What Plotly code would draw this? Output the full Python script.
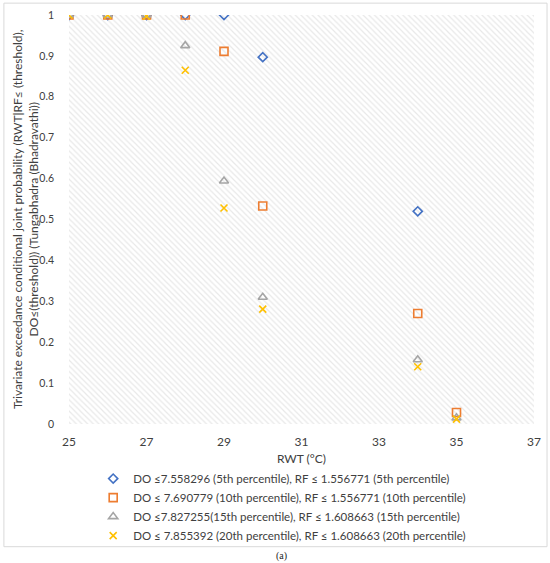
import plotly.graph_objects as go

# RWT (deg C) values on the x axis
rwt = [25, 26, 27, 28, 29, 30, 34, 35]

# joint probability per threshold combination
p_5th = [1.0, 1.0, 1.0, 1.0, 1.0, 0.897, 0.52, None]
p_10th = [1.0, 1.0, 1.0, 1.0, 0.911, 0.533, 0.27, 0.028]
p_15th = [1.0, 1.0, 1.0, 0.925, 0.594, 0.31, 0.157, 0.015]
p_20th = [1.0, 1.0, 0.997, 0.865, 0.528, 0.281, 0.14, 0.012]

names = [
    "DO \u22647.558296 (5th percentile), RF \u2264 1.556771 (5th percentile)",
    "DO \u2264 7.690779 (10th percentile), RF \u2264 1.556771 (10th percentile)",
    "DO \u22647.827255(15th percentile), RF \u2264 1.608663 (15th percentile)",
    "DO \u2264 7.855392 (20th percentile), RF \u2264 1.608663 (20th percentile)",
]

x_range = [25, 37]
y_range = [0, 1]

font_family = "Lato, 'Open Sans', sans-serif"
dark_text = "#404040"

fig = go.Figure()

# hatched plot background
fig.add_trace(go.Scatter(
    x=[x_range[0], x_range[1], x_range[1], x_range[0], x_range[0]],
    y=[y_range[0], y_range[0], y_range[1], y_range[1], y_range[0]],
    mode="none", fill="toself", fillcolor="white",
    fillpattern=dict(shape="\\", fgcolor="#d2d2d2", bgcolor="white", size=4, solidity=0.3),
    hoverinfo="skip", showlegend=False))

styles = [
    dict(symbol="diamond-open", color="#4472C4", size=7),
    dict(symbol="square-open", color="#ED7D31", size=8),
    dict(symbol="triangle-up-open", color="#A5A5A5", size=8),
    dict(symbol="x-thin-open", color="#FFC000", size=7),
]

for ys, name, st in zip([p_5th, p_10th, p_15th, p_20th], names, styles):
    fig.add_trace(go.Scatter(
        x=rwt, y=ys, mode="markers", name=name,
        marker=dict(symbol=st["symbol"], size=st["size"], color=st["color"],
                    line=dict(color=st["color"], width=1.6))))

fig.update_layout(
    width=550, height=563,
    margin=dict(l=69, r=16, t=15, b=139, autoexpand=False),
    paper_bgcolor="white", plot_bgcolor="white",
    font=dict(family=font_family, size=12, color=dark_text),
    showlegend=True,
    legend=dict(x=0.052, y=-0.098, xanchor="left", yanchor="top",
                font=dict(size=11.5, color=dark_text), tracegroupgap=0,
                bgcolor="rgba(0,0,0,0)"),
    xaxis=dict(range=x_range, dtick=2, tick0=25, showgrid=True, gridcolor="#d9d9d9",
               zeroline=False, showline=False, ticks="", ticklabelstandoff=9,
               tickfont=dict(size=12, color=dark_text),
               title=dict(text="RWT (\u00b0C)", standoff=6, font=dict(size=12, color=dark_text))),
    yaxis=dict(range=y_range, dtick=0.1, showgrid=True, gridcolor="#d9d9d9",
               zeroline=False, showline=False, ticks="", ticklabelstandoff=14,
               tickfont=dict(size=10.5, color=dark_text)),
    shapes=[dict(type="rect", xref="paper", yref="paper",
                 x0=-0.14, x1=1.028, y0=-0.3, y1=1.029,
                 line=dict(color="#d9d9d9", width=1), layer="below")],
    annotations=[
        dict(text="Trivariate exceedance conditional joint probability (RWT|RF\u2264 (threshold),<br>"
                  "DO\u2264(threshold)) (Tungabhadra (Bhadravathi))",
             xref="paper", yref="paper", x=-0.0935, y=0.5, xanchor="center", yanchor="middle",
             textangle=-90, showarrow=False, font=dict(size=12, color=dark_text)),
        dict(text="(a)", xref="paper", yref="paper", x=0.458, y=-0.323,
             xanchor="center", yanchor="middle",
             showarrow=False, font=dict(family="Liberation Serif", size=10, color="#222222")),
    ],
)

fig.write_html("out.html", config={"displayModeBar": False},
               post_script="document.body.style.margin='0';")
